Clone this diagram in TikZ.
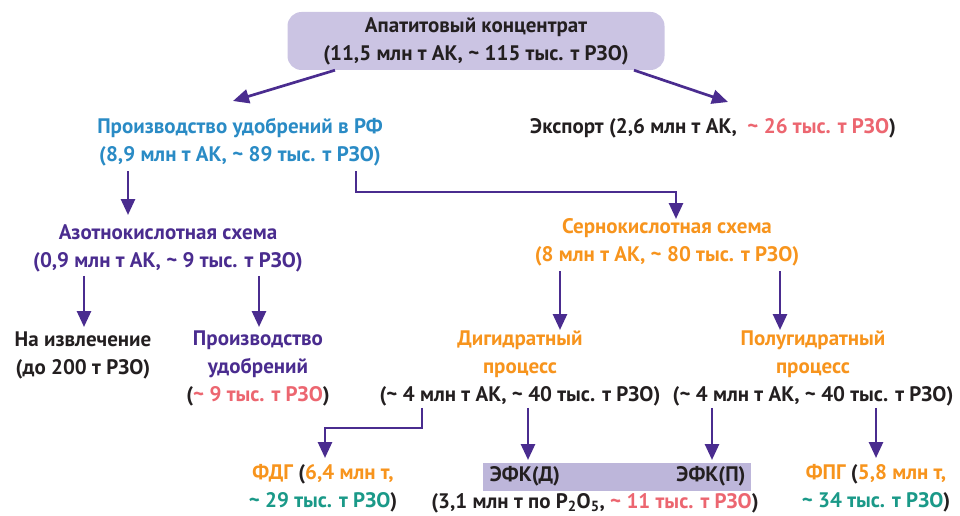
\documentclass[tikz,border=0pt]{standalone}
\usepackage{fontspec}
\setmainfont{PT Sans}
\usetikzlibrary{arrows.meta}
\definecolor{dark}{HTML}{231F20}
\definecolor{violet}{HTML}{4A2C8F}
\definecolor{blueT}{HTML}{2A8BC5}
\definecolor{orangeT}{HTML}{F7941D}
\definecolor{redT}{HTML}{EC6670}
\definecolor{tealT}{HTML}{1A9988}
\definecolor{lav}{HTML}{CBC4E3}
\definecolor{lavD}{HTML}{BDB6DA}
\newcommand{\tl}{\textasciitilde}
\begin{document}
\begin{tikzpicture}[x=1pt,y=-1pt]
 \tikzset{lbl/.style={align=center, inner sep=0pt, font=\bfseries\fontsize{21}{28}\selectfont, text=dark}}
 \tikzset{arr/.style={-{Triangle[width=14pt,length=16pt]}, line width=2.7pt, draw=violet}}
  \useasboundingbox (0,0) rectangle (960,516);
  % top
  \node[lbl, fill=lav, rounded corners=14pt, minimum width=377pt, minimum height=58pt] (TOP) at (476,41) {Апатитовый концентрат\\(11,5 млн т АК, \tl{} 115 тыс. т РЗО)};
  \node[lbl, text=blueT] (RF) at (240,142) {Производство удобрений в РФ\\(8,9 млн т АК, \tl{} 89 тыс. т РЗО)};
  \node[lbl, anchor=west] (EXP) at (530,128) {Экспорт (2,6 млн т АК, \ \textcolor{redT}{\tl{} 26 тыс. т РЗО})};
  % second level
  \node[lbl, text=violet] (AZOT) at (168,248) {Азотнокислотная схема\\(0,9 млн т АК, \tl{} 9 тыс. т РЗО)};
  \node[lbl, text=orangeT] (SERN) at (667,242) {Сернокислотная схема\\(8 млн т АК, \tl{} 80 тыс. т РЗО)};
  % third level
  \node[lbl] (IZVL) at (83,355) {На извлечение\\(до 200 т РЗО)};
  \node[lbl, text=violet] (PRUD) at (258,368) {Производство\\удобрений\\\textcolor{dark}{(\textcolor{redT}{\tl{} 9 тыс. т РЗО})}};
  \node[lbl, text=orangeT] (DIGID) at (520,368) {Дигидратный\\процесс\\\textcolor{dark}{(\tl{} 4 млн т АК, \tl{} 40 тыс. т РЗО)}};
  \node[lbl, text=orangeT] (POLUG) at (813,368) {Полугидратный\\процесс\\\textcolor{dark}{(\tl{} 4 млн т АК, \tl{} 40 тыс. т РЗО)}};
  % bottom
  \node[lbl, text=orangeT] (FDG) at (323,488) {ФДГ \textcolor{dark}{(}6,4 млн т,\\\textcolor{tealT}{\tl{} 29 тыс. т РЗО}\textcolor{dark}{)}};
  \node[lbl, text=orangeT] (FPG) at (876,488) {ФПГ \textcolor{dark}{(}5,8 млн т,\\\textcolor{tealT}{\tl{} 34 тыс. т РЗО}\textcolor{dark}{)}};
  \node[fill=lavD, minimum width=268pt, minimum height=28pt, inner sep=0pt] (EFK) at (617,477) {};
  \node[lbl] (EFKD) at (525,476) {ЭФК(Д)};
  \node[lbl] (EFKP) at (711,476) {ЭФК(П)};
  \node[lbl] (EFKL) at (595,503) {(3,1 млн т по P\textsubscript{2}O\textsubscript{5}, \textcolor{redT}{\tl{} 11 тыс. т РЗО})};
  % arrow ends and bends
  \coordinate (rfIn) at (233,101);
  \coordinate (expIn) at (728,102);
  \coordinate (azIn) at (128,215);
  \coordinate (rfBend) at (356,192);
  \coordinate (seIn) at (676,219);
  \coordinate (izIn) at (84,327);
  \coordinate (puIn) at (259,327);
  \coordinate (diIn) at (560,330);
  \coordinate (poIn) at (780,330);
  \coordinate (diBend) at (422,428);
  \coordinate (fdgIn) at (325,458);
  \coordinate (efkdIn) at (528,460);
  \coordinate (efkpIn) at (712,460);
  \coordinate (fpgIn) at (876,458);
  % connectors
  \draw[arr] ([xshift=-141pt]TOP.south) -- (rfIn);
  \draw[arr] ([xshift=158pt]TOP.south) -- (expIn);
  \draw[arr] ([yshift=-5pt]RF.south -| azIn) -- (azIn);
  \draw[arr] ([yshift=-5pt]RF.south -| rfBend) -- (rfBend) -| (seIn);
  \draw[arr] ([yshift=-4pt]AZOT.south -| izIn) -- (izIn);
  \draw[arr] ([yshift=-4pt]AZOT.south -| puIn) -- (puIn);
  \draw[arr] ([yshift=-5pt]SERN.south -| diIn) -- (diIn);
  \draw[arr] ([yshift=-5pt]SERN.south -| poIn) -- (poIn);
  \draw[arr] ([yshift=-2pt]DIGID.south -| diBend) -- (diBend) -| (fdgIn);
  \draw[arr] ([yshift=-2pt]DIGID.south -| efkdIn) -- (efkdIn);
  \draw[arr] ([yshift=-2pt]POLUG.south -| efkpIn) -- (efkpIn);
  \draw[arr] ([yshift=-2pt]POLUG.south -| fpgIn) -- (fpgIn);
\end{tikzpicture}
\end{document}
